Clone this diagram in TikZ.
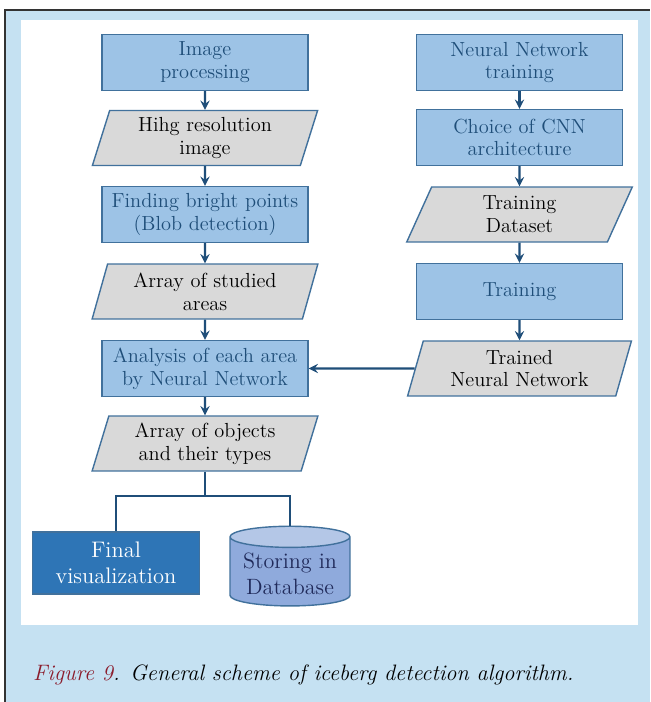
\documentclass[tikz,border=0pt]{standalone}
\usepackage{tikz}
\usetikzlibrary{shapes.geometric, arrows, positioning}
\definecolor{Frame-bg}{RGB}{197,225,242}
\definecolor{Box-fill}{RGB}{157,195,230}
\definecolor{Box-line}{RGB}{65,113,156}
\definecolor{Box-text}{RGB}{31,78,121}
\definecolor{Para-fill}{RGB}{217,217,217}
\definecolor{Link-blue}{RGB}{31,78,121}
\definecolor{Vis-fill}{RGB}{46,117,182}
\definecolor{Db-body}{RGB}{143,170,220}
\definecolor{Db-top}{RGB}{180,199,231}
\definecolor{Db-text}{RGB}{32,42,90}
\definecolor{Cap-red}{RGB}{139,28,44}

\begin{document}
\begin{tikzpicture}[x=0.02cm, y=-0.02cm]
        \tikzset{ pb/.style ={draw=Box-line, thick, minimum width=4.12cm, minimum height=1.12cm, align=center, text=Box-text, fill=Box-fill, font=\fontsize{11.6}{13}\selectfont } }
        \tikzset{ pd/.style ={trapezium, trapezium left angle=76, trapezium right angle=104, trapezium stretches=true, draw=Box-line, thick, minimum width=4.52cm, minimum height=1.1cm, align=center, text=black, fill=Para-fill, font=\fontsize{11.6}{13}\selectfont } }
        \tikzset{ pv/.style ={draw=Box-line, thick, minimum width=3.34cm, minimum height=1.24cm, align=center, text=white, fill=Vis-fill, font=\fontsize{12.8}{15}\selectfont } }
        \tikzset{ pdb/.style ={cylinder, shape border rotate=90, aspect=0.2, inner ysep=3pt, draw=Box-line, thick, minimum width=2.4cm, minimum height=1.3cm, align=center, text=Db-text, cylinder uses custom fill, cylinder body fill=Db-body, cylinder end fill=Db-top, font=\fontsize{12.6}{14.5}\selectfont } }

        \tikzstyle{lnk}=[->,>=stealth, draw=Link-blue, line width=1.3pt]
        \tikzstyle{brn}=[draw=Link-blue, line width=1.3pt]

        \newcommand\lft{205}
        \newcommand\rth{519.5}

        \useasboundingbox (0,0) rectangle (650,702);
        \fill[Frame-bg] (5,10) rectangle (650,702);
        \draw[black!80, line width=1pt] (5,702) -- (5,10) -- (650,10);
        \fill[white] (21,20) rectangle (638,625);

        % left column
        \node[pb] (imgproc) at (\lft, 62.5) {Image\\processing};
        \node[pd] (hires) at (\lft, 138) {Hihg resolution\\image};
        \node[pb] (blob) at (\lft, 214.5) {Finding bright points\\(Blob detection)};
        \node[pd] (areas) at (\lft, 291.5) {Array of studied\\areas};
        \node[pb] (analysis) at (\lft, 368.5) {Analysis of each area\\by Neural Network};
        \node[pd] (objects) at (\lft, 443.5) {Array of objects\\and their types};

        \node[pv] (finvis) at (116, 563) {Final\\visualization};
        \node[pdb] (store) at (290, 574) {Storing in\\Database};

        % right column
        \node[pb] (nntrain) at (\rth, 62.5) {Neural Network\\training};
        \node[pb] (cnn) at (\rth, 137.5) {Choice of CNN\\architecture};
        \node[pd] (dataset) at (\rth, 214.5) {Training\\Dataset};
        \node[pb] (train) at (\rth, 291.5) {Training};
        \node[pd] (trained) at (\rth, 368.5) {Trained\\Neural Network};

        \draw[lnk] (imgproc) -- (hires);
        \draw[lnk] (hires) -- (blob);
        \draw[lnk] (blob) -- (areas);
        \draw[lnk] (areas) -- (analysis);
        \draw[lnk] (analysis) -- (objects);

        \draw[lnk] (nntrain) -- (cnn);
        \draw[lnk] (cnn) -- (dataset);
        \draw[lnk] (dataset) -- (train);
        \draw[lnk] (train) -- (trained);
        \draw[lnk] (trained) -- (analysis);

        \draw[brn] (objects.south) -- ++(0,24) coordinate (split);
        \draw[brn] (split) -| (finvis.north);
        \draw[brn] (split) -| (store.north);

        \node[anchor=base west, font=\fontsize{12.7}{15}\selectfont\itshape] (caption) at (27,680) {{\color{Cap-red}Figure 9}. General scheme of iceberg detection algorithm.};
      \end{tikzpicture}
\end{document}
